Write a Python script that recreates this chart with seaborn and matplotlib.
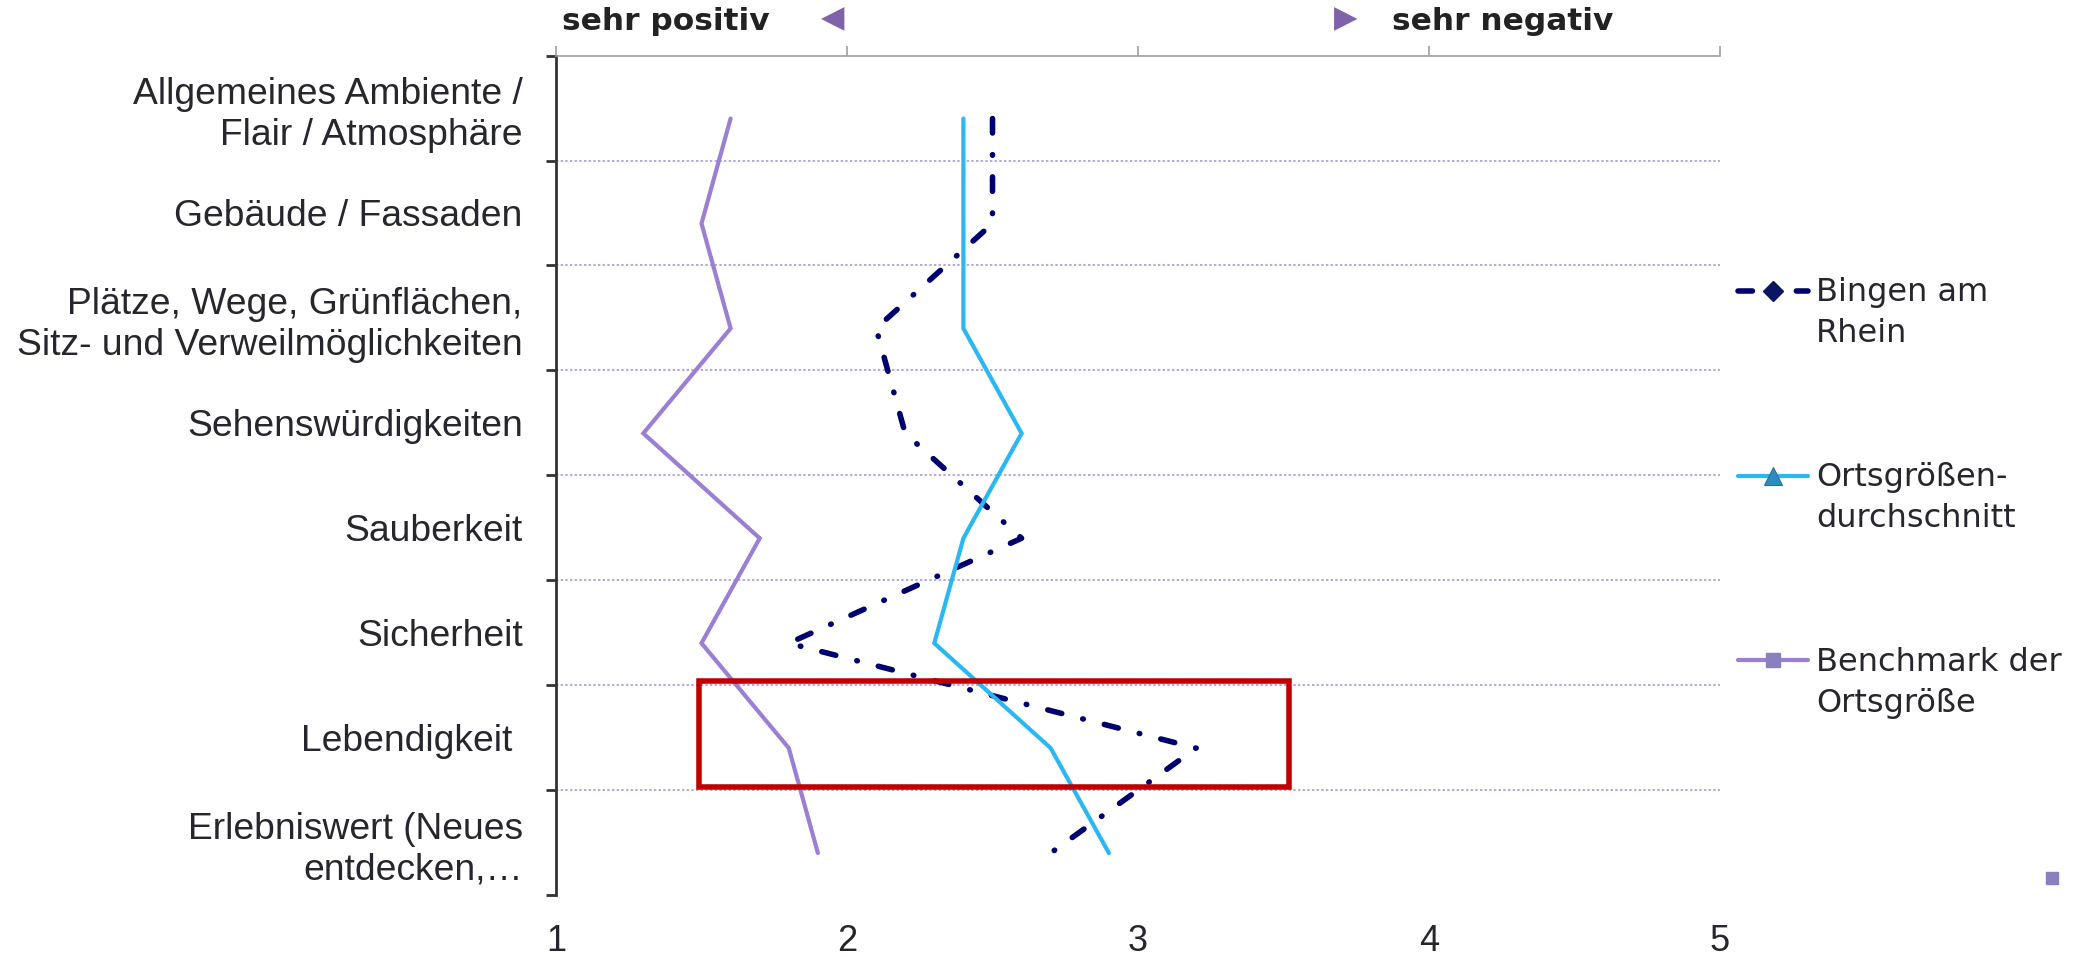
import numpy as np
import pandas as pd
import matplotlib
matplotlib.use("Agg")
import matplotlib.pyplot as plt
import matplotlib.transforms as mtransforms
import seaborn as sns
from matplotlib.lines import Line2D
from matplotlib.patches import Rectangle
from matplotlib.legend_handler import HandlerLine2D

# ---------------- data ----------------
categories = [
    "Allgemeines Ambiente /\nFlair / Atmosphäre",
    "Gebäude / Fassaden",
    "Plätze, Wege, Grünflächen,\nSitz- und Verweilmöglichkeiten",
    "Sehenswürdigkeiten",
    "Sauberkeit",
    "Sicherheit",
    "Lebendigkeit ",
    "Erlebniswert (Neues\nentdecken,…",
]
series_names = ["Bingen am\nRhein", "Ortsgrößen-\ndurchschnitt", "Benchmark der\nOrtsgröße"]
bingen = [2.5, 2.5, 2.1, 2.2, 2.6, 1.8, 3.2, 2.7]
ortsgroesse = [2.4, 2.4, 2.4, 2.6, 2.4, 2.3, 2.7, 2.9]
benchmark = [1.6, 1.5, 1.6, 1.3, 1.7, 1.5, 1.8, 1.9]
x_ticks = [1, 2, 3, 4, 5]
x_tick_labels = ["1", "2", "3", "4", "5"]
header_left = "sehr positiv"
header_right = "sehr negativ"
highlight_category = "Lebendigkeit "
highlight_range = (1.49, 3.52)

# ---------------- styles ----------------
navy = "#00006E"
cyan = "#2BB8F2"
purple = "#9B7FD2"
grid_col = "#B4A6E0"
text_col = "#26262E"
dash_bingen = (0, (2.6, 3.9, 0.1, 3.9))

sns.set_style("white")
plt.rcParams["font.family"] = ["DejaVu Sans"]

W, H = 2077, 957
fig = plt.figure(figsize=(W / 100, H / 100), dpi=100)
ax = fig.add_axes([556 / W, 1 - 895 / H, (1720 - 556) / W, (895 - 55.6) / H])

pos = np.arange(len(categories))
df = pd.DataFrame({
    "Position": np.tile(pos, 3),
    "Wert": bingen + ortsgroesse + benchmark,
    "Serie": np.repeat(series_names, len(categories)),
})

styles = {
    series_names[0]: dict(color=navy, linewidth=4.0, linestyle=dash_bingen, dash_capstyle="round"),
    series_names[1]: dict(color=cyan, linewidth=3.0, solid_capstyle="round", solid_joinstyle="miter"),
    series_names[2]: dict(color=purple, linewidth=3.0, solid_capstyle="round", solid_joinstyle="miter"),
}
for name in series_names:
    sub = df[df["Serie"] == name]
    sns.lineplot(data=sub, x="Wert", y="Position", orient="y", sort=False,
                 estimator=None, ax=ax, legend=False, zorder=3, **styles[name])

# lines sit slightly below the band centres, as in the original chart
shift = mtransforms.Affine2D().translate(0, 0.1)
for ln in ax.lines:
    ln.set_transform(shift + ax.transData)

ax.set_xlim(x_ticks[0], x_ticks[-1])
ax.set_ylim(len(categories) - 0.5, -0.5)
ax.set_xlabel("")
ax.set_ylabel("")

# gridlines at interior band boundaries
for b in np.arange(0.5, len(categories) - 1, 1.0):
    ax.axhline(b, color=grid_col, linestyle=(0, (1.2, 1.2)), linewidth=1.4, zorder=1)

# y axis
ax.set_yticks(pos)
ax.set_yticklabels(categories)
for t in ax.get_yticklabels():
    t.set_fontfamily("Liberation Sans")
    t.set_fontsize(26.8)
    t.set_linespacing(1.22)
    t.set_color(text_col)
    t.set_multialignment("right")
ax.tick_params(axis="y", which="major", length=0, pad=24)
ax.set_yticks(np.arange(-0.5, len(categories), 1.0), minor=True)
ax.tick_params(axis="y", which="minor", left=True, length=7, width=2, color="#333333", direction="out")

# x axis: ticks on top, labels at bottom
ax.set_xticks(x_ticks)
ax.set_xticklabels(x_tick_labels)
ax.tick_params(axis="x", which="major", top=True, bottom=False, labeltop=False, labelbottom=True,
               direction="out", length=7, width=1.2, color="#A0A0A0", pad=14,
               labelsize=26, labelcolor=text_col)
for t in ax.get_xticklabels():
    t.set_fontfamily("Liberation Sans")

for s in ["right", "bottom"]:
    ax.spines[s].set_visible(False)
ax.spines["top"].set_color("#A0A0A0")
ax.spines["top"].set_linewidth(1.2)
ax.spines["left"].set_color("#333333")
ax.spines["left"].set_linewidth(2)

# highlight box around "Lebendigkeit"
hi = categories.index(highlight_category)
ax.add_patch(Rectangle((highlight_range[0], hi - 0.54), highlight_range[1] - highlight_range[0], 1.01,
                       fill=False, edgecolor="#C00000", linewidth=4, zorder=5))

# header
fig.text(562 / W, 1 - 22 / H, header_left, ha="left", va="center", fontsize=22.5,
         fontweight="bold", color="#222222")
fig.text(1392 / W, 1 - 22 / H, header_right, ha="left", va="center", fontsize=22.5,
         fontweight="bold", color="#222222")
fig.text(833 / W, 1 - 19 / H, "◀", ha="center", va="center", fontsize=22, color="#7F62AA")
fig.text(1346 / W, 1 - 19 / H, "▶", ha="center", va="center", fontsize=22, color="#7F62AA")


# legend (handle aligned with the first text line)
class FirstLineHandler(HandlerLine2D):
    def __init__(self, shift_pts, **kw):
        super().__init__(**kw)
        self.shift_pts = shift_pts

    def create_artists(self, legend, orig_handle, xdescent, ydescent, width, height, fontsize, trans):
        arts = super().create_artists(legend, orig_handle, xdescent, ydescent, width, height, fontsize, trans)
        for a in arts:
            a.set_ydata(np.asarray(a.get_ydata(), dtype=float) + self.shift_pts)
        return arts


handles = [
    Line2D([], [], color=navy, linewidth=4.0, linestyle=dash_bingen, dash_capstyle="round",
           marker="D", markersize=10, markerfacecolor="#0A1660", markeredgecolor="#0A1660"),
    Line2D([], [], color=cyan, linewidth=3.0, solid_capstyle="round",
           marker="^", markersize=13, markerfacecolor="#2E8BC0", markeredgecolor="#2A6F9E", markeredgewidth=0.8),
    Line2D([], [], color=purple, linewidth=3.0, solid_capstyle="round",
           marker="s", markersize=10, markerfacecolor="#8A80BF", markeredgecolor="#8A80BF"),
]
leg = ax.legend(handles, series_names, loc="upper left", bbox_to_anchor=(1738 / W, 1 - 277 / H),
                bbox_transform=fig.transFigure, frameon=False, fontsize=23, handlelength=2.2,
                handletextpad=0.25, labelspacing=3.53, borderaxespad=0, borderpad=0,
                handler_map={Line2D: FirstLineHandler(16.7)})
for t in leg.get_texts():
    t.set_linespacing(1.42)
    t.set_color(text_col)

# stray legend marker at bottom right
fig.add_artist(Line2D([2052 / W], [1 - 878 / H], transform=fig.transFigure, marker="s",
                      markersize=9, color="#8A80BF", linestyle="none"))

fig.savefig("out.png", dpi=100, facecolor="white")
